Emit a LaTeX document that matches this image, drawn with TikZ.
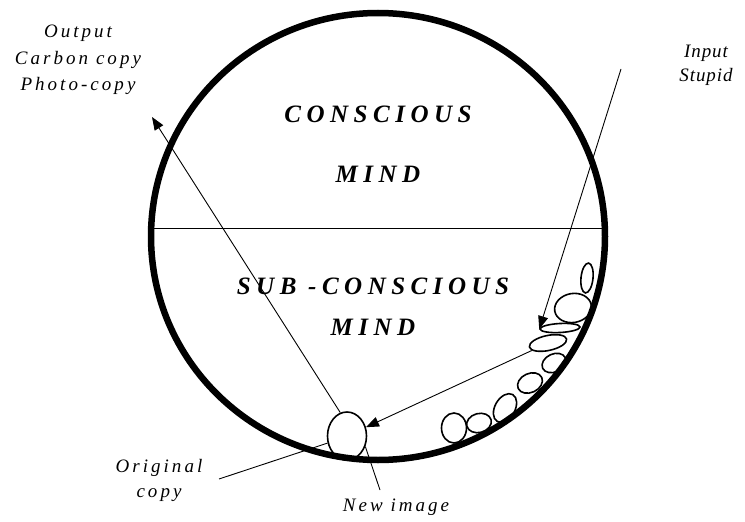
\documentclass[tikz,border=0pt]{standalone}
\usepackage{fontspec}
\usepackage{tikz}
\usetikzlibrary{shapes.geometric, arrows.meta, positioning, calc}
\setmainfont{Liberation Serif}
\newfontfamily\headserif[LetterSpace=22]{Liberation Serif}
\newfontfamily\wideserif[LetterSpace=16]{Liberation Serif}
\newfontfamily\tightserif[LetterSpace=5]{Liberation Serif}
\tikzstyle{heading} = [inner sep=0pt, text height=18pt, text depth=0pt, font=\headserif\bfseries\itshape\fontsize{25}{30}\selectfont]
\tikzstyle{lbl} = [inner sep=0pt, anchor=north, align=center, font=\wideserif\itshape\fontsize{19}{26.5}\selectfont]
\tikzstyle{blob} = [ellipse, draw=black, line width=1.6pt, inner sep=0pt]
\tikzstyle{thin} = [line width=0.9pt]
\tikzstyle{arrow} = [line width=0.9pt, -{Triangle[length=13pt, width=10pt]}]

\begin{document}
\begin{tikzpicture}[x=1pt, y=-1pt]
    \useasboundingbox (0,0) rectangle (745,522);

    % The mind
    \node (mind) [ellipse, draw=black, line width=6.5pt, minimum width=454pt, minimum height=447pt, inner sep=0pt] at (378,236.5) {};
    \draw [line width=1.5pt] (mind.178) -- (mind.2);

    % Conscious part
    \node (conscious) [heading, anchor=north] at (378,104) {CONSCIOUS};
    \node (cmind) [heading, below=42pt of conscious] {MIND};

    % Sub-conscious part
    \node (subconscious) [heading, anchor=north] at (373,276) {SUB -CONSCIOUS};
    \node (smind) [heading, below=23pt of subconscious] {MIND};

    % Images stored along the bottom
    \node (newimg) [blob, minimum width=39pt, minimum height=48pt] at (347,436) {};
    \node (ova) [blob, minimum width=12pt, minimum height=30pt, rotate=-6] at (587,278) {};
    \node (ovb) [blob, minimum width=37pt, minimum height=29pt, rotate=10] at (573,308) {};
    \node (ovc) [blob, minimum width=40pt, minimum height=9pt, rotate=3] at (560,328) {};
    \node (ovd) [blob, minimum width=38pt, minimum height=15pt, rotate=12] at (548,343) {};
    \node (ove) [blob, minimum width=25pt, minimum height=18pt, rotate=25] at (554,363) {};
    \node (ovf) [blob, minimum width=26pt, minimum height=19pt, rotate=25] at (530,383) {};
    \node (ovg) [blob, minimum width=20pt, minimum height=31pt, rotate=-30] at (505,408) {};
    \node (ovh) [blob, minimum width=25pt, minimum height=19pt, rotate=15] at (479,423) {};
    \node (ovi) [blob, minimum width=25pt, minimum height=30pt] at (454,428) {};

    % Labels
    \node (output) [lbl] at (78,25) {Output\\Carbon copy\\Photo-copy};
    \node (input) [lbl, font=\tightserif\itshape\fontsize{19}{24}\selectfont] at (706,45) {Input\\Stupid};
    \node (original) [lbl, font=\wideserif\itshape\fontsize{19}{25}\selectfont] at (159,459) {Original\\copy};
    \node (newlbl) [lbl] at (396,499) {New image};

    % Free ends
    \coordinate (outtip) at (152,117);
    \coordinate (instart) at (621,69);
    \coordinate (origend) at (219,479);
    \coordinate (newend) at (380,490);

    % Arrows
    \draw [arrow] (newimg.106) -- (outtip);
    \draw [arrow] (instart) -- (ovc.west);
    \draw [arrow] (ovd) -- (newimg);
    \draw [thin] (origend) -- (newimg.200);
    \draw [thin] (newimg.330) -- (newend);

\end{tikzpicture}
\end{document}
